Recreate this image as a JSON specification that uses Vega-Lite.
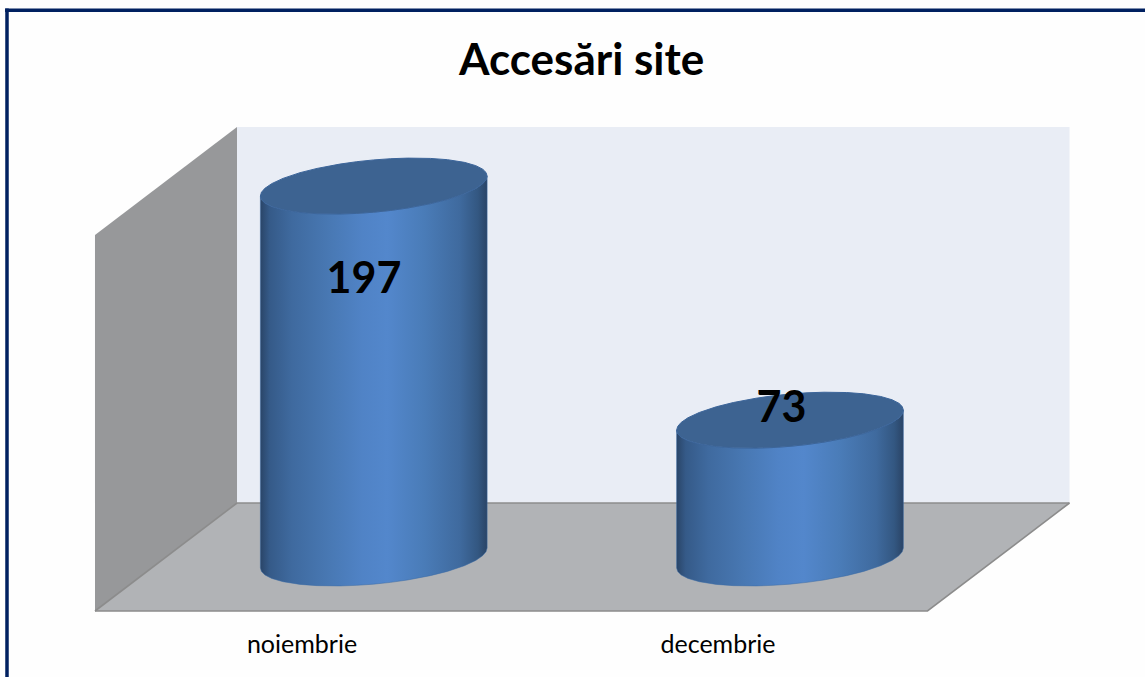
{
"$schema":"https://vega.github.io/schema/vega-lite/v6.json",
"width":1145,"height":677,"autosize":"none","padding":0,"background":"#FEFEFE",
"view":{"stroke":null},
"title":{"text":"Accesări site","font":"Lato","fontSize":44,"fontWeight":"bold","color":"#000000","anchor":"start","offset":-84,"dx":459},
"datasets":{
"cyl":[
{"category":"noiembrie","x":-0.2724,"foot":-5.30,"rim":191.70,"lid":191.70},
{"category":"noiembrie","x":-0.2697,"foot":-7.19,"rim":189.81,"lid":193.71},
{"category":"noiembrie","x":-0.2615,"foot":-8.97,"rim":188.03,"lid":195.79},
{"category":"noiembrie","x":-0.2452,"foot":-10.81,"rim":186.19,"lid":198.27},
{"category":"noiembrie","x":-0.2179,"foot":-12.55,"rim":184.45,"lid":201.07},
{"category":"noiembrie","x":-0.1771,"foot":-13.97,"rim":183.03,"lid":204.09},
{"category":"noiembrie","x":-0.1362,"foot":-14.64,"rim":182.36,"lid":206.34},
{"category":"noiembrie","x":-0.0817,"foot":-14.80,"rim":182.20,"lid":208.62},
{"category":"noiembrie","x":-0.0409,"foot":-14.49,"rim":182.51,"lid":209.91},
{"category":"noiembrie","x":0,"foot":-13.85,"rim":183.15,"lid":210.85},
{"category":"noiembrie","x":0.0409,"foot":-12.91,"rim":184.09,"lid":211.49},
{"category":"noiembrie","x":0.0817,"foot":-11.62,"rim":185.38,"lid":211.80},
{"category":"noiembrie","x":0.1362,"foot":-9.34,"rim":187.66,"lid":211.64},
{"category":"noiembrie","x":0.1771,"foot":-7.09,"rim":189.91,"lid":210.97},
{"category":"noiembrie","x":0.2179,"foot":-4.07,"rim":192.93,"lid":209.55},
{"category":"noiembrie","x":0.2452,"foot":-1.27,"rim":195.73,"lid":207.81},
{"category":"noiembrie","x":0.2615,"foot":1.21,"rim":198.21,"lid":205.97},
{"category":"noiembrie","x":0.2697,"foot":3.29,"rim":200.29,"lid":204.19},
{"category":"noiembrie","x":0.2724,"foot":5.30,"rim":202.30,"lid":202.30},
{"category":"decembrie","x":0.7276,"foot":-5.30,"rim":67.70,"lid":67.70},
{"category":"decembrie","x":0.7303,"foot":-7.19,"rim":65.81,"lid":69.71},
{"category":"decembrie","x":0.7385,"foot":-8.97,"rim":64.03,"lid":71.79},
{"category":"decembrie","x":0.7548,"foot":-10.81,"rim":62.19,"lid":74.27},
{"category":"decembrie","x":0.7821,"foot":-12.55,"rim":60.45,"lid":77.07},
{"category":"decembrie","x":0.8229,"foot":-13.97,"rim":59.03,"lid":80.09},
{"category":"decembrie","x":0.8638,"foot":-14.64,"rim":58.36,"lid":82.34},
{"category":"decembrie","x":0.9183,"foot":-14.80,"rim":58.20,"lid":84.62},
{"category":"decembrie","x":0.9591,"foot":-14.49,"rim":58.51,"lid":85.91},
{"category":"decembrie","x":1,"foot":-13.85,"rim":59.15,"lid":86.85},
{"category":"decembrie","x":1.0409,"foot":-12.91,"rim":60.09,"lid":87.49},
{"category":"decembrie","x":1.0817,"foot":-11.62,"rim":61.38,"lid":87.80},
{"category":"decembrie","x":1.1362,"foot":-9.34,"rim":63.66,"lid":87.64},
{"category":"decembrie","x":1.1771,"foot":-7.09,"rim":65.91,"lid":86.97},
{"category":"decembrie","x":1.2179,"foot":-4.07,"rim":68.93,"lid":85.55},
{"category":"decembrie","x":1.2452,"foot":-1.27,"rim":71.73,"lid":83.81},
{"category":"decembrie","x":1.2615,"foot":1.21,"rim":74.21,"lid":81.97},
{"category":"decembrie","x":1.2697,"foot":3.29,"rim":76.29,"lid":80.19},
{"category":"decembrie","x":1.2724,"foot":5.30,"rim":78.30,"lid":78.30}
]},
"layer":[
{"data":{"values":[{"x":-0.3285,"x2":1.6715,"lo":29.13,"hi":228.28}]},
 "mark":{"type":"rect","color":"#E9EDF5"},
 "encoding":{
  "x":{"field":"x","type":"quantitative","scale":{"domain":[-0.8979,1.8529],"nice":false,"zero":false},"axis":null},
  "x2":{"field":"x2"},
  "y":{"field":"lo","type":"quantitative","scale":{"domain":[-63.03,295.55],"nice":false,"zero":false},"axis":null},
  "y2":{"field":"hi"}}},
{"data":{"values":[{"x":-0.6697,"lo":-28.07,"hi":171.08},{"x":-0.3285,"lo":29.13,"hi":228.28}]},
 "mark":{"type":"area","color":"#97989A","orient":"vertical"},
 "encoding":{
  "x":{"field":"x","type":"quantitative","scale":{"domain":[-0.8979,1.8529],"nice":false,"zero":false},"axis":null},
  "y":{"field":"lo","type":"quantitative","scale":{"domain":[-63.03,295.55],"nice":false,"zero":false},"axis":null,"stack":null},
  "y2":{"field":"hi"}}},
{"data":{"values":[{"x":-0.6697,"lo":-28.07,"hi":-28.07},{"x":-0.3285,"lo":-28.07,"hi":29.13},{"x":1.3303,"lo":-28.07,"hi":29.13},{"x":1.6715,"lo":29.13,"hi":29.13}]},
 "mark":{"type":"area","color":"#B1B3B6","orient":"vertical"},
 "encoding":{
  "x":{"field":"x","type":"quantitative","scale":{"domain":[-0.8979,1.8529],"nice":false,"zero":false},"axis":null},
  "y":{"field":"lo","type":"quantitative","scale":{"domain":[-63.03,295.55],"nice":false,"zero":false},"axis":null,"stack":null},
  "y2":{"field":"hi"}}},
{"data":{"values":[
 {"edge":"a","x":-0.6697,"v":-28.07},{"edge":"a","x":1.3303,"v":-28.07},{"edge":"a","x":1.6715,"v":29.13},
 {"edge":"b","x":-0.3285,"v":29.13},{"edge":"b","x":1.6715,"v":29.13},
 {"edge":"c","x":-0.6697,"v":-28.07},{"edge":"c","x":-0.3285,"v":29.13}]},
 "mark":{"type":"line","color":"#8C8C8C","strokeWidth":1.6},
 "encoding":{
  "x":{"field":"x","type":"quantitative","scale":{"domain":[-0.8979,1.8529],"nice":false,"zero":false},"axis":null},
  "y":{"field":"v","type":"quantitative","scale":{"domain":[-63.03,295.55],"nice":false,"zero":false},"axis":null},
  "detail":{"field":"edge"}}},
{"data":{"name":"cyl"},
 "mark":{"type":"area","orient":"vertical","stroke":"#3A6AA5","strokeWidth":0.5,
  "color":{"gradient":"linear","x1":0,"x2":1,"y1":0,"y2":0,"stops":[
   {"offset":0,"color":"#2A4568"},{"offset":0.04,"color":"#355A88"},{"offset":0.14,"color":"#3F6A9F"},{"offset":0.3,"color":"#4878B3"},
   {"offset":0.45,"color":"#5083C6"},{"offset":0.56,"color":"#5387CC"},{"offset":0.72,"color":"#4A7CB8"},{"offset":0.88,"color":"#3F6A9E"},{"offset":0.96,"color":"#335781"},{"offset":1,"color":"#2A4466"}]}},
 "encoding":{
  "x":{"field":"x","type":"quantitative","scale":{"domain":[-0.8979,1.8529],"nice":false,"zero":false},"axis":null},
  "y":{"field":"foot","type":"quantitative","scale":{"domain":[-63.03,295.55],"nice":false,"zero":false},"axis":null,"stack":null},
  "y2":{"field":"rim"},
  "detail":{"field":"category"}}},
{"data":{"name":"cyl"},
 "mark":{"type":"area","orient":"vertical","color":"#3D6391","stroke":"#3C659A","strokeWidth":1},
 "encoding":{
  "x":{"field":"x","type":"quantitative","scale":{"domain":[-0.8979,1.8529],"nice":false,"zero":false},"axis":null},
  "y":{"field":"rim","type":"quantitative","scale":{"domain":[-63.03,295.55],"nice":false,"zero":false},"axis":null,"stack":null},
  "y2":{"field":"lid"},
  "detail":{"field":"category"}}},
{"data":{"values":[{"category":"noiembrie","x":-0.1724,"v":-46.08},{"category":"decembrie","x":0.827,"v":-46.08}]},
 "mark":{"type":"text","font":"Lato","fontSize":25,"color":"#000000","align":"center","baseline":"middle"},
 "encoding":{
  "x":{"field":"x","type":"quantitative","scale":{"domain":[-0.8979,1.8529],"nice":false,"zero":false},"axis":null},
  "y":{"field":"v","type":"quantitative","scale":{"domain":[-63.03,295.55],"nice":false,"zero":false},"axis":null},
  "text":{"field":"category"}}},
{"data":{"values":[{"category":"noiembrie","value":197,"x":-0.0234,"v":147.3},{"category":"decembrie","value":73,"x":0.9795,"v":79}]},
 "mark":{"type":"text","font":"Lato","fontWeight":"bold","fontSize":43,"color":"#000000","align":"center","baseline":"middle"},
 "encoding":{
  "x":{"field":"x","type":"quantitative","scale":{"domain":[-0.8979,1.8529],"nice":false,"zero":false},"axis":null},
  "y":{"field":"v","type":"quantitative","scale":{"domain":[-63.03,295.55],"nice":false,"zero":false},"axis":null},
  "text":{"field":"value","type":"quantitative"}}},
{"data":{"values":[{"x":-0.8811,"x2":-0.8811,"lo":-63.03,"hi":291},{"x":-0.8857,"x2":1.8529,"lo":290.1,"hi":290.1}]},
 "mark":{"type":"rule","color":"#002060","strokeWidth":3.5},
 "encoding":{
  "x":{"field":"x","type":"quantitative","scale":{"domain":[-0.8979,1.8529],"nice":false,"zero":false},"axis":null},
  "x2":{"field":"x2"},
  "y":{"field":"lo","type":"quantitative","scale":{"domain":[-63.03,295.55],"nice":false,"zero":false},"axis":null},
  "y2":{"field":"hi"}}}
]
}
